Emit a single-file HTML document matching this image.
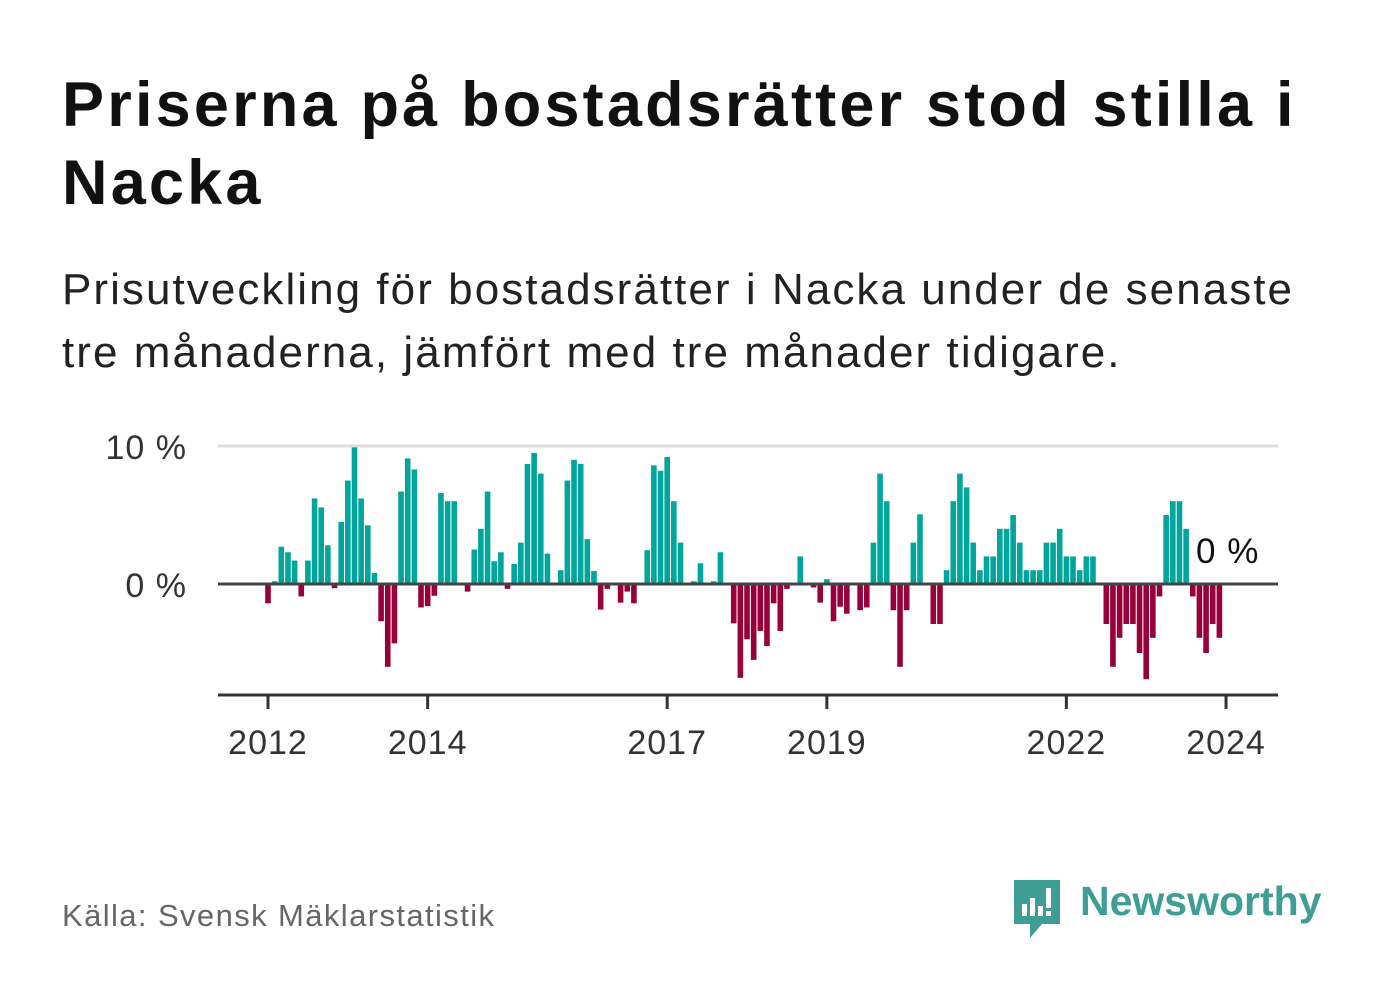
<!DOCTYPE html>
<html><head><meta charset="utf-8"><style>
body{margin:0;width:1382px;height:999px;background:#fff;font-family:"Liberation Sans","DejaVu Sans",sans-serif;overflow:hidden;position:relative}
.t{position:absolute;left:62px;top:66px;font-size:63px;font-weight:bold;line-height:78px;color:#111;width:1320px;letter-spacing:3.2px;white-space:nowrap}
.s{position:absolute;left:62px;top:258px;font-size:44px;line-height:63px;color:#222;width:1320px;letter-spacing:2.05px;white-space:nowrap}
.src{position:absolute;left:62px;top:898px;font-size:31px;color:#666;letter-spacing:1.4px}
.logo{position:absolute;left:1012px;top:878px}
.logotxt{position:absolute;left:1080px;top:878px;font-size:41px;font-weight:bold;color:#3e9e96}
</style></head><body>
<div class="t">Priserna på bostadsrätter stod stilla i<br>Nacka</div>
<div class="s">Prisutveckling för bostadsrätter i Nacka under de senaste<br>tre månaderna, jämfört med tre månader tidigare.</div>
<svg id="chart" width="1382" height="999" style="position:absolute;left:0;top:0"></svg>
<div class="src">Källa: Svensk Mäklarstatistik</div>
<svg class="logo" width="50" height="62" viewBox="0 0 50 62">
<path d="M2 2h46v44H30l-12 14v-14H2z" fill="#3e9e96"/>
<rect x="10" y="26" width="5" height="12" fill="#fff"/><rect x="18" y="20" width="5" height="18" fill="#fff"/><rect x="26" y="28" width="5" height="10" fill="#fff"/><rect x="34" y="10" width="5" height="20" fill="#fff"/><rect x="34" y="33" width="5" height="5" fill="#fff"/>
</svg>
<div class="logotxt">Newsworthy</div>
<script>
const values=[-1.4,0.2,2.7,2.3,1.7,-0.9,1.7,6.2,5.55,2.8,-0.3,4.5,7.5,9.9,6.2,4.25,0.8,-2.7,-6.0,-4.3,6.7,9.1,8.3,-1.7,-1.6,-0.85,6.6,6.0,6.0,0,-0.55,2.5,4.0,6.7,1.65,2.3,-0.35,1.45,3.0,8.7,9.5,8.0,2.2,0,1.0,7.5,9.0,8.7,3.25,0.95,-1.85,-0.35,0,-1.35,-0.55,-1.4,0,2.45,8.6,8.2,9.2,6.0,3.0,0,0.2,1.5,0,0.2,2.3,0,-2.85,-6.8,-4.0,-5.5,-3.4,-4.5,-1.4,-3.4,-0.35,0,2.0,0,-0.25,-1.35,0.35,-2.7,-1.65,-2.15,0,-1.9,-1.7,3.0,8.0,6.0,-1.9,-6.0,-1.9,3.0,5.05,0,-2.9,-2.9,1.0,6.0,8.0,7.0,3.0,1.0,2.0,2.0,4.0,4.0,5.0,3.0,1.0,1.0,1.0,3.0,3.0,4.0,2.0,2.0,1.0,2.0,2.0,0,-2.9,-6.0,-3.9,-2.9,-2.9,-5.0,-6.9,-3.9,-0.9,5.0,6.0,6.0,4.0,-0.9,-3.9,-5.0,-2.9,-3.9];
const startYear=2012;
const xTickYears=[2012,2014,2017,2019,2022,2024];
const yTicks=[0,10];
const yTickLabels=["0 %","10 %"];
const lastLabel="0 %";
const NS="http://www.w3.org/2000/svg";
const svg=document.getElementById('chart');
const x0=268,pxPerMonth=6.653;
function xMonth(i){return x0+i*pxPerMonth;}
function xYear(y){return xMonth((y-startYear)*12);}
function yVal(v){return 584-v*13.8;}
function mk(tag,attrs){const e=document.createElementNS(NS,tag);for(const k in attrs)e.setAttribute(k,attrs[k]);svg.appendChild(e);return e;}
yTicks.forEach((t,j)=>{
  if(t!==0){const g=mk('line',{x1:218,x2:1278,y1:yVal(t),y2:yVal(t),stroke:'#ddd','stroke-width':3});
  
  }
  const l=mk('text',{x:187,y:yVal(t)+13,'text-anchor':'end','font-size':34,fill:'#333','letter-spacing':1});
  l.textContent=yTickLabels[j];
  
  
});
values.forEach((v,i)=>{
  if(v===0)return;
  const y=v>0?yVal(v):yVal(0);
  const r=mk('rect',{x:xMonth(i)-2.8,y:y,width:5.6,height:Math.abs(yVal(v)-yVal(0)),fill:v>0?'#00a59b':'#98003a'});
  
  
});
const z=mk('line',{x1:218,x2:1278,y1:yVal(0),y2:yVal(0),stroke:'#444','stroke-width':3});


const ax=mk('line',{x1:218,x2:1278,y1:695,y2:695,stroke:'#333','stroke-width':3});


xTickYears.forEach(yr=>{
  const tk=mk('line',{x1:xYear(yr),x2:xYear(yr),y1:695,y2:709,stroke:'#333','stroke-width':3});
  
  
  const tl=mk('text',{x:xYear(yr),y:754,'text-anchor':'middle','font-size':34,fill:'#333','letter-spacing':1});
  tl.textContent=yr;
  
  
});
const ll=mk('text',{x:1196,y:563,'font-size':35,fill:'#111','letter-spacing':1});
ll.textContent=lastLabel;


</script>
</body></html>
